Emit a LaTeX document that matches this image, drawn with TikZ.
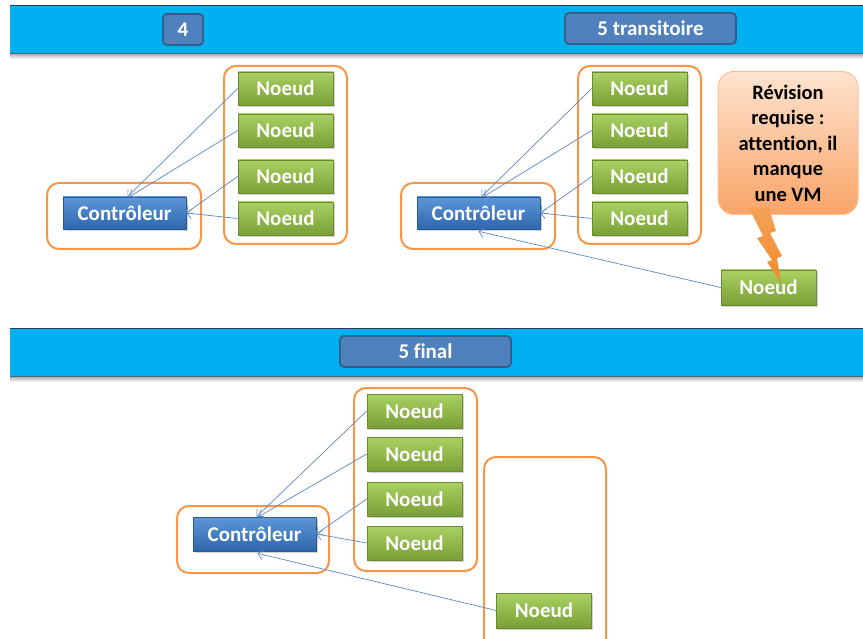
\documentclass[tikz,border=0pt]{standalone}
\usepackage{fontspec}
\setmainfont{Carlito}[Ligatures=CommonOff]
\usepackage{tikz}
\usepackage{xcolor}
\usetikzlibrary{shapes.geometric, arrows.meta, positioning, calc, shadows}

\definecolor{bandblue}{HTML}{00B0F0}
\definecolor{bandline}{HTML}{1F3F5A}
\definecolor{stagefill}{HTML}{4F81BD}
\definecolor{stageline}{HTML}{385D8A}
\definecolor{noeudtop}{HTML}{AAD162}
\definecolor{noeudbot}{HTML}{7A9F36}
\definecolor{noeudline}{HTML}{6A8A32}
\definecolor{ctrltop}{HTML}{5E97D8}
\definecolor{ctrlbot}{HTML}{2E66AC}
\definecolor{ctrlline}{HTML}{2B5A90}
\definecolor{groupeline}{HTML}{F79646}
\definecolor{linkblue}{HTML}{5B87C5}
\definecolor{bulletop}{HTML}{FDE3CF}
\definecolor{bullebot}{HTML}{F9A468}
\definecolor{bulleline}{HTML}{FAC090}
\definecolor{eclair}{HTML}{F08A2C}

\begin{document}
\begin{tikzpicture}[x=1pt, y=-1pt,
  font=\fontsize{21}{25}\selectfont\bfseries,
  stage/.style={rectangle, rounded corners=4pt, draw=stageline, line width=1.8pt, fill=stagefill, text=white, minimum height=31pt, inner sep=0pt},
  noeud/.style={rectangle, draw=noeudline, line width=0.6pt, top color=noeudtop, bottom color=noeudbot, text=white, minimum width=95pt, minimum height=33pt, inner sep=0pt, drop shadow={shadow xshift=1.5pt, shadow yshift=-2pt, opacity=0.35}},
  ctrl/.style={rectangle, draw=ctrlline, line width=0.6pt, top color=ctrltop, bottom color=ctrlbot, text=white, minimum width=123pt, minimum height=32pt, inner sep=0pt, drop shadow={shadow xshift=1.5pt, shadow yshift=-2pt, opacity=0.35}},
  groupe/.style={draw=groupeline, line width=2pt, rounded corners=12pt},
  link/.style={draw=linkblue, line width=0.7pt, -{Straight Barb[length=5pt, width=10pt]}}
]
\useasboundingbox (0,0) rectangle (863,639);
\clip (0,0) rectangle (863,639);

% bands
\foreach \y in {6, 329} {
  \shade[top color=black!30, bottom color=white] (10,\y+48) rectangle (863,\y+53);
  \fill[bandblue] (10,\y) rectangle (863,\y+48);
  \draw[bandline, line width=1pt] (10,\y) -- (863,\y);
  \draw[bandline!80, line width=1.5pt] (10,\y+47.5) -- (863,\y+47.5);
}
\node[stage, minimum width=40pt] (s4) at (183,29.5) {4};
\node[stage, minimum width=171pt] (s5t) at (650.5,28.5) {5 transitoire};
\node[stage, minimum width=171pt] (s5f) at (425.5,351.5) {5 final};

% stage 4
\draw[groupe] (47,183) rectangle (201,249);
\draw[groupe] (224,66) rectangle (347,244);
\node[ctrl] (c1) at (124.5,213) {Contrôleur};
\node[noeud] (n11) at (285.5,88.5) {Noeud};
\node[noeud] (n12) at (285.5,130.5) {Noeud};
\node[noeud] (n13) at (285.5,176.5) {Noeud};
\node[noeud] (n14) at (285.5,218.5) {Noeud};
\draw[link] (n11.west) -- ([xshift=3pt]c1.north);
\draw[link] (n12.west) -- ([xshift=5pt]c1.north);
\draw[link] (n13.west) -- (c1.east);
\draw[link] (n14.west) -- (c1.east);

% stage 5 transitoire
\draw[groupe] (401,183) rectangle (555,249);
\draw[groupe] (578,66) rectangle (701,244);
\node[ctrl] (c2) at (478.5,213) {Contrôleur};
\node[noeud] (n21) at (639.5,88.5) {Noeud};
\node[noeud] (n22) at (639.5,130.5) {Noeud};
\node[noeud] (n23) at (639.5,176.5) {Noeud};
\node[noeud] (n24) at (639.5,218.5) {Noeud};
\node[noeud, minimum height=35pt] (n25) at (768.5,287.5) {Noeud};
\draw[link] (n21.west) -- ([xshift=3pt]c2.north);
\draw[link] (n22.west) -- ([xshift=5pt]c2.north);
\draw[link] (n23.west) -- (c2.east);
\draw[link] (n24.west) -- (c2.east);
\draw[link] (n25.west) -- ([yshift=-2pt]c2.south);

% callout
\node[rectangle, rounded corners=16pt, draw=bulleline, line width=1pt, top color=bulletop, bottom color=bullebot, minimum width=140pt, minimum height=143pt, align=center, font=\fontsize{20.5}{25.5}\selectfont\bfseries] (bulle) at (788,143)
  {Révision\\requise :\\attention, il\\manque\\une VM};
\shade[top color=eclair!80, bottom color=eclair!100!black] (749,208) -- (763,236) -- (757,238) -- (772,260) -- (767,262) -- (781,283) -- (777,258) -- (782,256) -- (770,233) -- (776,231) -- (769,208) -- cycle;

% stage 5 final
\draw[groupe] (177,506) rectangle (329,573);
\draw[groupe] (354,388) rectangle (477,571);
\draw[groupe] (484,457) rectangle (606,660);
\node[ctrl, minimum height=34pt] (c3) at (254.5,534) {Contrôleur};
\node[noeud, minimum height=34pt] (n31) at (414.5,411) {Noeud};
\node[noeud, minimum height=34pt] (n32) at (414.5,454) {Noeud};
\node[noeud, minimum height=34pt] (n33) at (414.5,499) {Noeud};
\node[noeud, minimum height=34pt] (n34) at (414.5,543) {Noeud};
\node[noeud, minimum height=35pt] (n35) at (544,610.5) {Noeud};
\draw[link] (n31.west) -- ([xshift=2pt]c3.north);
\draw[link] (n32.west) -- ([xshift=4pt]c3.north);
\draw[link] (n33.west) -- (c3.east);
\draw[link] (n34.west) -- (c3.east);
\draw[link] (n35.west) -- ([xshift=3pt, yshift=-2pt]c3.south);
\end{tikzpicture}
\end{document}
